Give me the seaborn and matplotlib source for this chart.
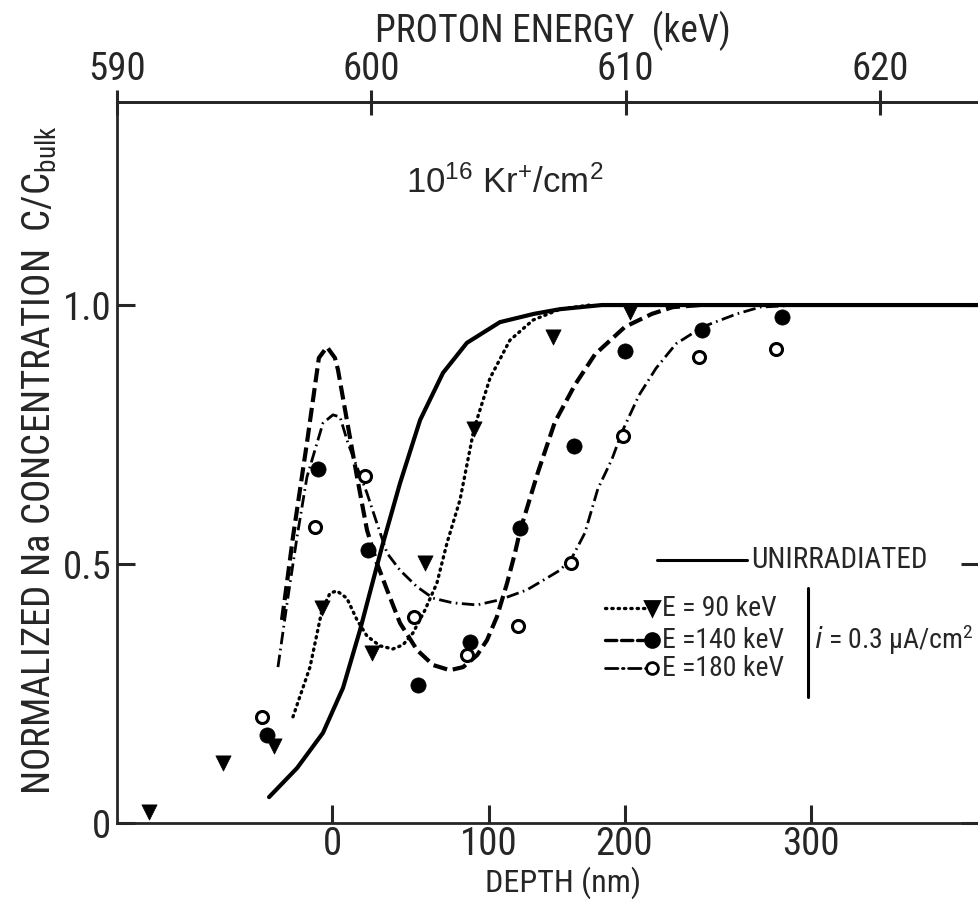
import matplotlib
matplotlib.use("Agg")
import matplotlib.pyplot as plt
from matplotlib import font_manager as fm
import seaborn as sns

# ---------------- data (x = proton energy in keV, y = C/C_bulk) ----------------
energy_ticks = [590, 600, 610, 620]
energy_labels = ["590", "600", "610", "620"]
depth_labels = ["0", "100", "200", "300"]
depth_tick_keV = [598.47, 604.62, 609.96, 617.30]
y_ticks = [0, 0.5, 1.0]
y_labels = ["0", "0.5", "1.0"]

# measured points
tri_x = [591.26, 594.17, 596.17, 598.06, 600.03, 602.11, 604.04, 607.15, 610.17]
tri_y = [0.021, 0.116, 0.149, 0.415, 0.328, 0.502, 0.761, 0.938, 0.986]

dot_x = [595.90, 597.90, 599.87, 601.84, 603.88, 605.85, 607.97, 609.98, 613.00, 616.15]
dot_y = [0.170, 0.683, 0.527, 0.266, 0.349, 0.569, 0.728, 0.911, 0.952, 0.977]

ring_x = [595.70, 597.79, 599.75, 601.68, 603.76, 605.77, 607.85, 609.90, 612.89, 615.91]
ring_y = [0.205, 0.571, 0.670, 0.398, 0.324, 0.380, 0.502, 0.747, 0.900, 0.915]

# drawn curves
unirr_x = [595.98, 597.08, 598.10, 598.89, 599.56, 600.42, 601.13, 601.92, 602.82,
           603.76, 605.06, 606.40, 607.42, 609.07, 625.0]
unirr_y = [0.050, 0.106, 0.174, 0.261, 0.373, 0.533, 0.656, 0.778, 0.869,
           0.927, 0.967, 0.983, 0.992, 1.0, 1.0]

e90_x = [596.92, 597.59, 598.06, 598.38, 598.65, 599.04, 599.44, 599.83, 600.34, 600.85,
         601.25, 601.64, 602.11, 602.58, 602.98, 603.49, 604.04, 604.67, 605.45, 606.36,
         607.42, 608.60]
e90_y = [0.205, 0.301, 0.411, 0.444, 0.448, 0.434, 0.392, 0.361, 0.342, 0.336,
         0.344, 0.367, 0.411, 0.463, 0.541, 0.624, 0.761, 0.859, 0.932, 0.971,
         0.992, 1.0]

e140_x = [596.49, 596.92, 597.47, 597.94, 598.26, 598.57, 598.69, 599.04, 599.44, 599.83,
          600.22, 600.62, 601.13, 601.80, 602.43, 603.09, 603.61, 604.16, 604.55, 604.94,
          605.34, 605.65, 605.85, 606.56, 607.22, 608.01, 608.80, 609.98, 611.04, 611.86,
          612.93]
e140_y = [0.392, 0.552, 0.734, 0.898, 0.919, 0.898, 0.875, 0.778, 0.668, 0.566,
          0.502, 0.450, 0.386, 0.334, 0.305, 0.295, 0.301, 0.324, 0.353, 0.398,
          0.463, 0.521, 0.564, 0.678, 0.774, 0.846, 0.905, 0.958, 0.983, 0.996,
          1.0]

e180_x = [596.33, 596.69, 597.08, 597.47, 597.90, 598.10, 598.49, 598.77, 599.08, 599.44,
          599.83, 600.22, 600.62, 601.13, 601.80, 602.43, 603.21, 604.16, 605.06, 606.12,
          606.91, 607.42, 607.89, 608.40, 608.91, 609.47, 609.86, 610.53, 611.20, 611.98,
          613.04, 614.38, 615.29, 616.86]
e180_y = [0.301, 0.425, 0.552, 0.668, 0.739, 0.772, 0.788, 0.784, 0.734, 0.687,
          0.637, 0.579, 0.521, 0.488, 0.456, 0.434, 0.425, 0.421, 0.431, 0.450,
          0.473, 0.488, 0.512, 0.560, 0.645, 0.703, 0.755, 0.826, 0.878, 0.925,
          0.958, 0.983, 0.996, 1.0]

# ---------------- style ----------------
sns.set_style("ticks")


def pick_narrow_font():
    """Find an installed condensed / narrow sans face."""
    entries = fm.fontManager.ttflist
    prefs = [("Liberation Sans Narrow", None), ("Roboto Condensed", None),
             ("Open Sans Condensed", None), ("DejaVu Sans", "condensed"),
             ("Noto Sans", "condensed"), ("Noto Sans", "extra-condensed"),
             ("Noto Sans", "semi-condensed"), ("Open Sans", "condensed"),
             ("Roboto", "condensed"), ("Open Sans", "semi-condensed")]
    for name, stretch in prefs:
        for f in entries:
            if f.name != name or f.style != "normal":
                continue
            if stretch is not None and str(f.stretch) != stretch:
                continue
            return name, (stretch or "normal"), True
    for f in entries:
        if ("Narrow" in f.name or "Condensed" in f.name
                or str(f.stretch) in ("condensed", "semi-condensed")):
            return f.name, str(f.stretch), True
    return "Liberation Sans", "normal", False


FONT, STRETCH, NARROW = pick_narrow_font()
plt.rcParams["font.family"] = [FONT, "Liberation Sans", "DejaVu Sans"]
plt.rcParams["font.stretch"] = STRETCH
plt.rcParams["mathtext.default"] = "regular"
SC = 1.0 if NARROW else 0.8   # shrink text when no narrow face is available

W, H = 979, 916
fig = plt.figure(figsize=(W / 100, H / 100), dpi=100)
L, R, T, B = 117, 979, 102, 823
ax = fig.add_axes([L / W, (H - B) / H, (R - L) / W, (B - T) / H])

K = "black"
# curves
sns.lineplot(x=unirr_x, y=unirr_y, ax=ax, color=K, lw=3.0, sort=False,
             estimator=None, solid_capstyle="round")
sns.lineplot(x=e90_x, y=e90_y, ax=ax, color=K, lw=2.4, sort=False, estimator=None,
             linestyle=(0, (0.4, 1.5)), dash_capstyle="round")
sns.lineplot(x=e140_x, y=e140_y, ax=ax, color=K, lw=3.0, sort=False, estimator=None,
             linestyle=(0, (3.4, 1.4)))
sns.lineplot(x=e180_x, y=e180_y, ax=ax, color=K, lw=2.0, sort=False, estimator=None,
             linestyle=(0, (4.5, 1.6, 0.6, 1.6)))

# points
sns.scatterplot(x=tri_x, y=tri_y, ax=ax, marker="v", s=120, color=K,
                edgecolor=K, linewidth=0.5, zorder=5, clip_on=False)
sns.scatterplot(x=dot_x, y=dot_y, ax=ax, marker="o", s=120, color=K,
                edgecolor=K, linewidth=0.5, zorder=5)
sns.scatterplot(x=ring_x, y=ring_y, ax=ax, marker="o", s=75, color="white",
                edgecolor=K, linewidth=2.2, zorder=5)

# axes
ax.set_xlim(590, 623.9)
ax.set_ylim(0, 1.392)
ax.set_xticks(depth_tick_keV, labels=depth_labels)
ax.set_yticks(y_ticks, labels=y_labels)
ax.set_xlabel("")
ax.set_ylabel("")
ax.tick_params(axis="x", direction="in", length=13, width=2.2, labelsize=28 * SC, pad=2)
ax.tick_params(axis="y", direction="in", length=13, width=2.2, labelsize=28 * SC, pad=4,
               right=True, labelright=False)
for s in ["left", "bottom", "top"]:
    ax.spines[s].set_linewidth(2.0)
ax.spines["right"].set_visible(False)

sec = ax.secondary_xaxis("top")
sec.set_xticks(energy_ticks, labels=energy_labels)
sec.tick_params(direction="inout", length=18, width=2.2, labelsize=28 * SC, pad=1)
sec.spines["top"].set_linewidth(2.0)

# labels
fig.text(553 / W, 1 - 31 / H, "PROTON ENERGY  (keV)", ha="center", va="center",
         fontsize=27 * SC)
fig.text(563 / W, 1 - 883 / H, "DEPTH (nm)", ha="center", va="center", fontsize=23 * SC)
fig.text(40 / W, 1 - 460 / H, "NORMALIZED Na CONCENTRATION  C/C$_{bulk}$",
         ha="center", va="center", rotation=90, fontsize=28 * SC)

ax.text((505 - L) / (R - L), (B - 183) / (B - T), "10$^{16}$ Kr$^{+}$/cm$^{2}$",
        transform=ax.transAxes, ha="center", va="center", fontsize=25,
        family=["Liberation Sans", "DejaVu Sans"], stretch="normal")


# legend (hand-made, like the original)
def fx(px):
    return (px - L) / (R - L)


def fy(py):
    return (B - py) / (B - T)


tr = ax.transAxes
ax.plot([fx(657), fx(747)], [fy(560), fy(560)], color=K, lw=2.2, transform=tr)
ax.text(fx(751), fy(560), "UNIRRADIATED", transform=tr, ha="left", va="center",
        fontsize=21 * SC)

rows = [(608, (0, (0.4, 1.5)), 2.4, "v", K, "E = 90 keV"),
        (640, (0, (3.4, 1.4)), 2.4, "o", K, "E =140 keV"),
        (668, (0, (4.5, 1.6, 0.6, 1.6)), 2.0, "o", "white", "E =180 keV")]
for py, ls, lw, mk, fc, lab in rows:
    ax.plot([fx(605), fx(646)], [fy(py), fy(py)], color=K, lw=lw, linestyle=ls,
            transform=tr, dash_capstyle="round")
    ax.plot([fx(652)], [fy(py)], marker=mk, ms=10 if fc == K else 8.5, mfc=fc,
            mec=K, mew=2.0, transform=tr, linestyle="none")
    ax.text(fx(662), fy(py), lab, transform=tr, ha="left", va="center",
            fontsize=20 * SC)

ax.plot([fx(808), fx(808)], [fy(588), fy(697)], color=K, lw=2.2, transform=tr)
ax.text(fx(814), fy(640), "$\\mathit{i}$ = 0.3 μA/cm$^{2}$", transform=tr,
        ha="left", va="center", fontsize=20 * SC)

fig.savefig("out.png", dpi=100, facecolor="white")
